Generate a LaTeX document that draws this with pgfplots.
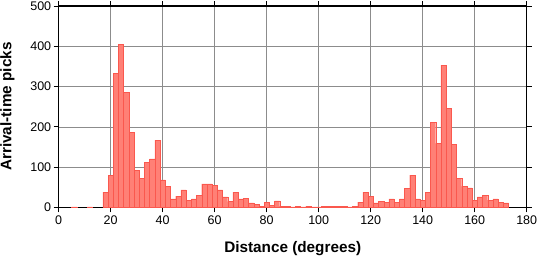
\documentclass[border=0pt]{standalone}
\usepackage{fontspec}
\setmainfont{Liberation Sans}
\usepackage{pgfplots}
\pgfplotsset{compat=1.18}
\definecolor{barfill}{RGB}{255,128,118}
\definecolor{baredge}{RGB}{250,88,78}
\begin{document}
\begin{tikzpicture}
\begin{axis}[
  scale only axis, width=468bp, height=201.3bp,
  xmin=0, xmax=180, ymin=0, ymax=500,
  xtick={0,20,...,180}, ytick={0,100,...,500},
  grid=major, major grid style={black!45, line width=0.5bp},
  axis line style={line width=1.4bp},
  tick align=outside, major tick length=5bp,
  tick style={black, line width=0.8bp},
  xtick pos=both, ytick pos=both,
  xticklabel pos=lower, yticklabel pos=left,
  tick label style={font=\fontsize{12.5bp}{14bp}\selectfont},
  yticklabel style={xshift=1bp},
  /pgf/number format/assume math mode=true,
  xlabel={Distance (degrees)}, ylabel={Arrival-time picks},
  label style={font=\bfseries\fontsize{15.3bp}{18bp}\selectfont},
  xlabel style={at={(axis description cs:0.5,-0.2236)}, anchor=base},
  ylabel style={at={(axis description cs:-0.1094,0.5)}, anchor=center, rotate=0},
]
\addplot[ybar, bar width=2, fill=barfill, draw=baredge, line width=0.4bp] coordinates {
(6,1) (12,1) (18,38) (20,80) (22,333) (24,405) (26,286) (28,186) (30,92) (32,72)
(34,112) (36,120) (38,167) (40,68) (42,52) (44,21) (46,28) (48,43) (50,18) (52,21)
(54,30) (56,58) (58,58) (60,55) (62,43) (64,26) (66,14) (68,38) (70,21) (72,23)
(74,11) (76,8) (78,2) (80,13) (82,5) (84,16) (86,3) (88,3) (90,1) (92,3)
(94,1) (96,2) (98,1) (100,1) (102,3) (104,2) (106,3) (108,2) (110,2) (112,1)
(114,2) (116,13) (118,38) (120,28) (122,11) (124,15) (126,13) (128,21) (130,13) (132,21)
(134,47) (136,80) (138,21) (140,18) (142,37) (144,211) (146,159) (148,353) (150,246) (152,157)
(154,72) (156,52) (158,48) (160,18) (162,26) (164,30) (166,18) (168,21) (170,13) (172,11)
};
\end{axis}
\pgfresetboundingbox
\path[use as bounding box] (-58.7bp,-50.7bp) rectangle (480.3bp,207.3bp);
\end{tikzpicture}
\end{document}
